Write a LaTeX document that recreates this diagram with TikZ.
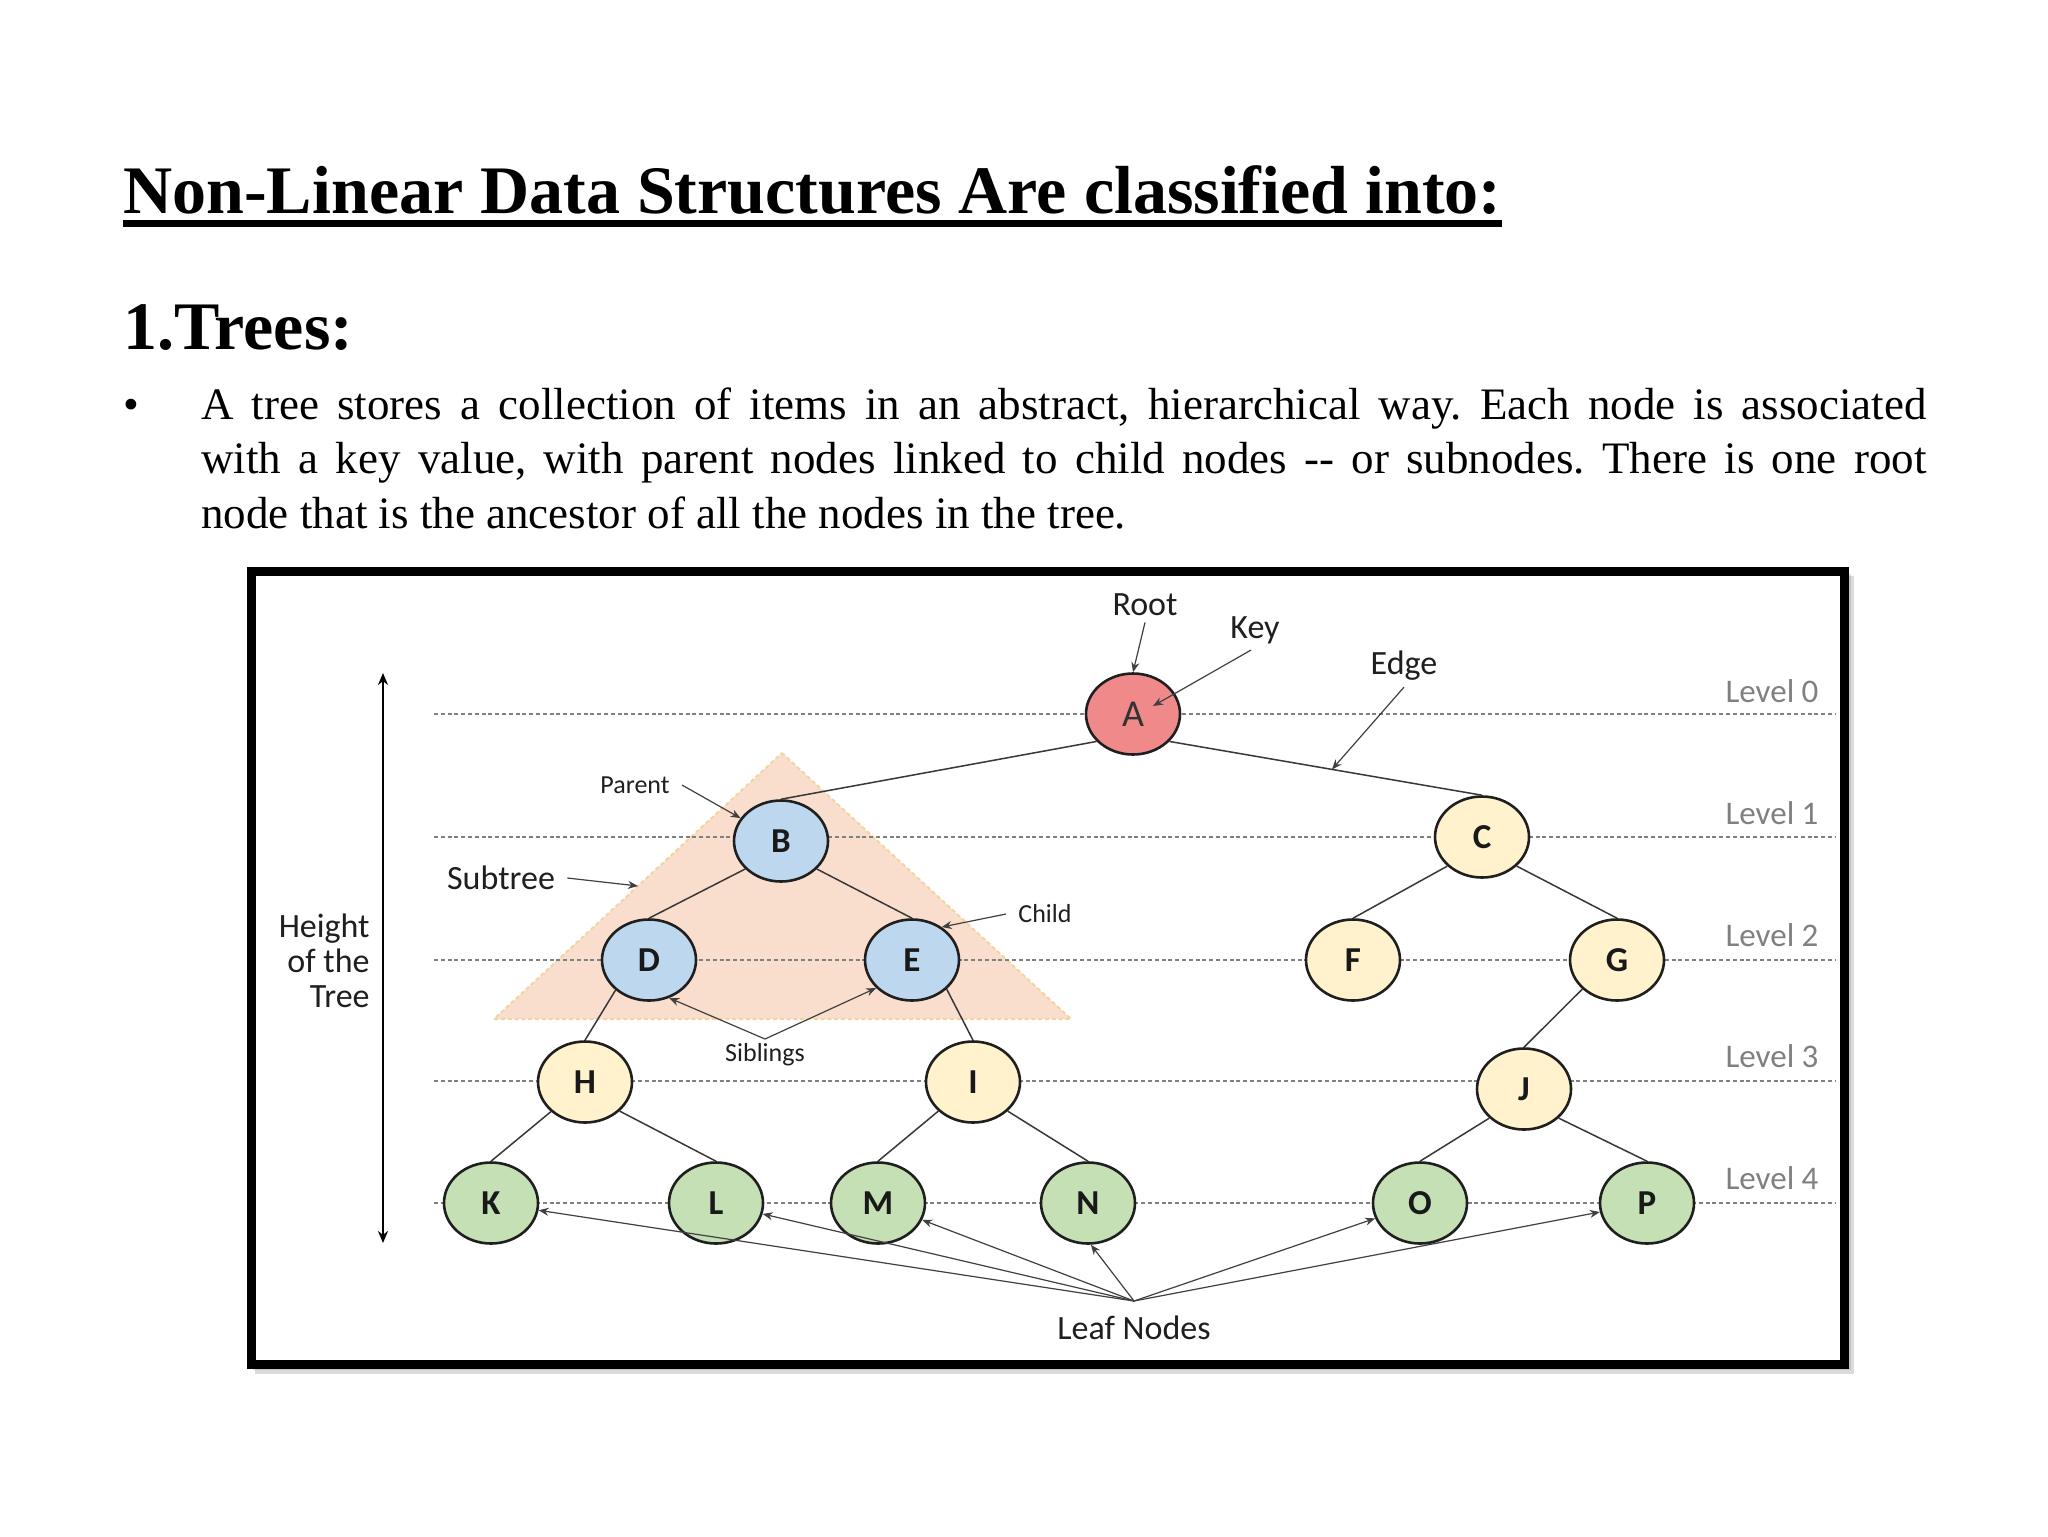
\documentclass[tikz,border=0pt]{standalone}
\usepackage{fontspec}
\setmainfont{Liberation Serif}
\newfontfamily\diag{Carlito}
\usetikzlibrary{arrows.meta,shapes.geometric}
\definecolor{nblue}{RGB}{189,215,238}
\definecolor{nyellow}{RGB}{255,242,204}
\definecolor{ngreen}{RGB}{197,224,180}
\definecolor{nred}{RGB}{240,138,138}
\definecolor{trifill}{RGB}{250,222,205}
\definecolor{tridraw}{RGB}{242,212,160}
\definecolor{levgray}{RGB}{128,128,128}
\frenchspacing
\begin{document}
\begin{tikzpicture}[x=0.5pt,y=-0.5pt,
  tn/.style={ellipse, draw=black!88, line width=1.3pt, minimum width=47pt, minimum height=40.5pt, inner sep=0pt, font=\diag\bfseries\fontsize{17.5}{18}\selectfont, text=black!90},
  bnode/.style={tn, fill=nblue},
  ynode/.style={tn, fill=nyellow},
  gnode/.style={tn, fill=ngreen},
  rnode/.style={tn, fill=nred, font=\diag\fontsize{19}{20}\selectfont, text=black!80},
  levline/.style={draw=levgray, line width=0.9pt, dash pattern=on 2pt off 1.4pt},
  levlbl/.style={font=\diag\fontsize{16.5}{18}\selectfont, text=levgray, inner sep=0pt},
  tedge/.style={draw=black!78, line width=0.75pt},
  lbl/.style={font=\diag\fontsize{17}{17.5}\selectfont, text=black!88, inner sep=0pt},
  slbl/.style={font=\diag\fontsize{13}{14}\selectfont, text=black!88, inner sep=0pt},
  ptr/.style={draw=black!75, line width=0.6pt, -{Stealth[length=5pt,width=4pt]}},
  serif34/.style={font=\bfseries\fontsize{34}{40}\selectfont, inner sep=0pt},
  bodytxt/.style={font=\fontsize{22.5}{27.25}\selectfont, inner sep=0pt}
]
\useasboundingbox[fill=white] (0,0) rectangle (2048,1536);

% ---------- heading text ----------
\node[serif34, anchor=base west] (title) at (123,213) {Non-Linear Data Structures Are classified into:};
\draw[line width=3.5pt] ([yshift=-5.25pt]title.base west) -- ([yshift=-5.25pt]title.base east);
\node[serif34, anchor=base west] (trees) at (123,349) {1.Trees:};
\node[bodytxt, anchor=base] (bullet) at (131,419) {\textbullet};
\node[bodytxt, anchor=base west, text width=862.5pt, align=justify] (para) at (201,419)
 {A tree stores a collection of items in an abstract, hierarchical way. Each node is associated\linebreak
  with a key value, with parent nodes linked to child nodes -{}- or subnodes. There is one root\linebreak
  node that is the ancestor of all the nodes in the tree.};

% ---------- frame ----------
\fill[black!40, opacity=0.35] (255,576) rectangle (1854,1374);
\fill[black!40, opacity=0.35] (253,574) rectangle (1851,1370);
\draw[line width=4.5pt, fill=white] (251.5,571.5) rectangle (1844.5,1364);

% ---------- subtree triangle ----------
\filldraw[fill=trifill, draw=tridraw, line width=1pt, dash pattern=on 2pt off 1.4pt] (782,753) -- (1071,1019) -- (494,1019) -- cycle;

% ---------- level lines ----------
\foreach \yy in {714,837,960,1081,1203} \draw[levline] (434,\yy) -- (1835,\yy);
\node[levlbl] (lv0) at (1772,691) {Level 0};
\node[levlbl] (lv1) at (1772,813) {Level 1};
\node[levlbl] (lv2) at (1772,935) {Level 2};
\node[levlbl] (lv3) at (1772,1056) {Level 3};
\node[levlbl] (lv4) at (1772,1178) {Level 4};

% ---------- height arrow ----------
\coordinate (htop) at (383,673);
\coordinate (hbot) at (383,1243);
\draw[line width=1pt, {Stealth[length=6pt,width=5pt]}-{Stealth[length=6pt,width=5pt]}] (htop) -- (hbot);
\node[lbl, align=right, anchor=east, font=\diag\fontsize{17}{17.5}\selectfont] (height) at (370,961) {Height\\of the\\Tree};

% ---------- tree nodes ----------
\node[rnode] (A) at (1133,714) {A};
\node[bnode] (B) at (781,841) {B};
\node[ynode] (C) at (1482,837) {C};
\node[bnode] (D) at (649,960) {D};
\node[bnode] (E) at (912,960) {E};
\node[ynode] (F) at (1353,960) {F};
\node[ynode] (G) at (1617,960) {G};
\node[ynode] (H) at (585,1082) {H};
\node[ynode] (I) at (973,1082) {I};
\node[ynode] (J) at (1524,1089) {J};
\node[gnode] (K) at (491,1203) {K};
\node[gnode] (L) at (716,1203) {L};
\node[gnode] (M) at (878,1203) {M};
\node[gnode] (N) at (1088,1203) {N};
\node[gnode] (O) at (1420,1203) {O};
\node[gnode] (P) at (1647,1203) {P};

% ---------- tree edges ----------
\draw[tedge] (A.-143) -- (B.north);
\draw[tedge] (A.-37) -- (C.north);
\draw[tedge] (B.-142) -- (D.north);
\draw[tedge] (B.-38) -- (E.north);
\draw[tedge] (C.-140) -- (F.north);
\draw[tedge] (C.-40) -- (G.north);
\draw[tedge] (D.-138) -- (H.north);
\draw[tedge] (E.-40) -- (I.north);
\draw[tedge] (G.-140) -- (J.north);
\draw[tedge] (H.-139) -- (K.north);
\draw[tedge] (H.-40) -- (L.north);
\draw[tedge] (I.-140) -- (M.north);
\draw[tedge] (I.-40) -- (N.north);
\draw[tedge] (J.-140) -- (O.north);
\draw[tedge] (J.-40) -- (P.north);

% ---------- annotation labels ----------
\node[lbl] (root) at (1145,605) {Root};
\node[lbl] (key) at (1255,630) {Key};
\node[lbl] (edgel) at (1404,666) {Edge};
\node[slbl] (parent) at (635,785) {Parent};
\node[lbl] (subtree) at (501,878) {Subtree};
\node[slbl] (child) at (1045,914) {Child};
\node[slbl] (sibl) at (765,1055) {Siblings};
\node[lbl] (leaf) at (1134,1328) {Leaf Nodes};

% ---------- annotation arrows ----------
\coordinate (keytip) at (1153,706);
\path (A.-37) -- (C.north) coordinate[pos=0.52] (edgept);
\coordinate (subtip) at (638,886);
\coordinate (sibpt) at (765,1039);
\coordinate (leafpt) at (1134,1301);

\draw[ptr] ([yshift=-3pt]root.south) -- (A.north);
\draw[ptr] ([xshift=-2pt,yshift=-3pt]key.south) -- (keytip);
\draw[ptr] ([yshift=-3pt]edgel.south) -- (edgept);
\draw[ptr] ([xshift=6pt]parent.east) -- (B);
\draw[ptr] ([xshift=6pt]subtree.east) -- (subtip);
\draw[ptr] ([xshift=-6pt]child.west) -- (E.48);
\draw[ptr] (sibpt) -- (D.-62);
\draw[ptr] (sibpt) -- (E.-142);
\foreach \t in {K,L,M,O,P} \draw[ptr] (leafpt) -- (\t);
\draw[ptr] (leafpt) -- (N.-86);
\end{tikzpicture}
\end{document}
